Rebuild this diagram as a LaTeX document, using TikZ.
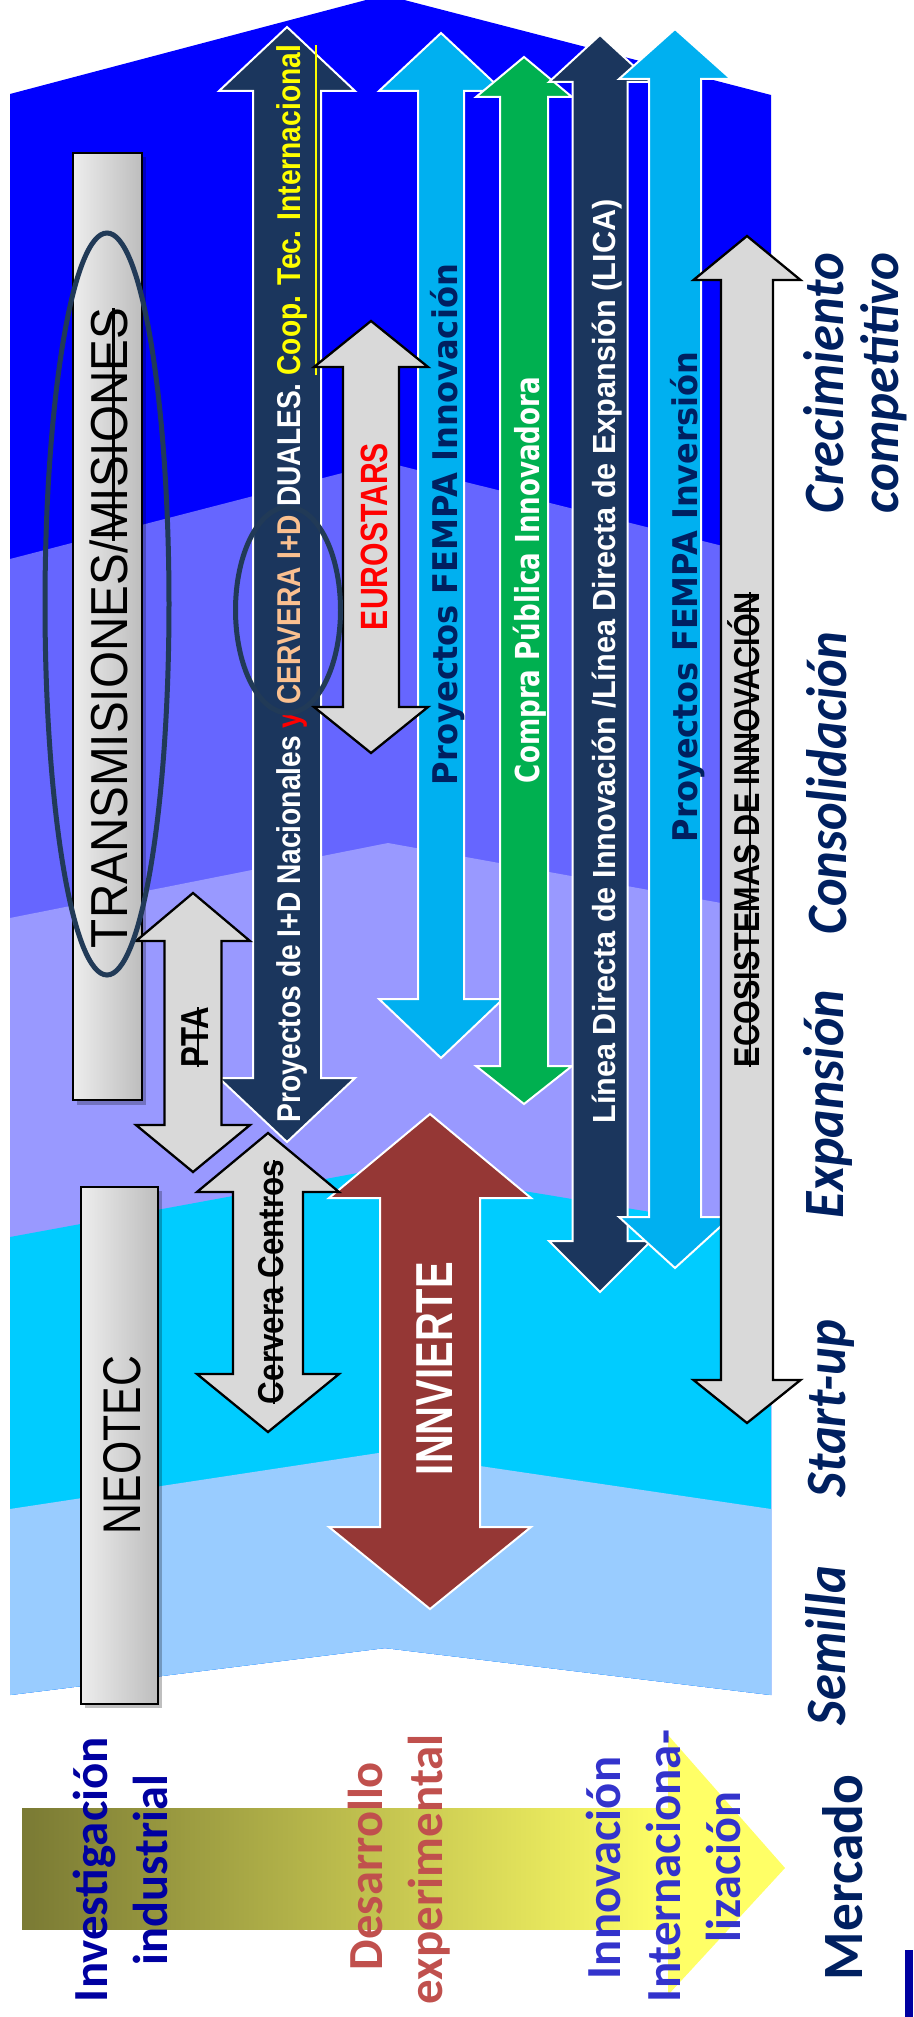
\documentclass[tikz,border=0pt]{standalone}
\usepackage{fontspec}
\usepackage{graphicx}
\setmainfont{Carlito}
\newfontfamily\djv{DejaVu Sans}
\newfontfamily\lib{Liberation Sans}
\definecolor{bandA}{HTML}{0000FF}
\definecolor{bandB}{HTML}{6666FF}
\definecolor{bandC}{HTML}{9999FF}
\definecolor{bandD}{HTML}{00CCFF}
\definecolor{bandE}{HTML}{99CCFF}
\definecolor{navy}{HTML}{1B365D}
\definecolor{lblue}{HTML}{00B0F0}
\definecolor{cgreen}{HTML}{00B050}
\definecolor{lgray}{HTML}{D9D9D9}
\definecolor{dred}{HTML}{953735}
\definecolor{ellc}{HTML}{213A57}
\definecolor{cerv}{HTML}{FAC090}
\definecolor{yel}{HTML}{FFFF00}
\definecolor{dnavy}{HTML}{002060}
\definecolor{invc}{HTML}{0000A0}
\definecolor{desc}{HTML}{C0504D}
\definecolor{innc}{HTML}{3333CC}
\definecolor{olive}{HTML}{7A7A34}
\definecolor{yelarr}{HTML}{FFFF66}
\definecolor{boxl}{HTML}{EDEDED}
\definecolor{boxr}{HTML}{BDBDBD}
\newcommand\fitL[3]{\resizebox{#1pt}{\height}{\fontsize{#2pt}{#2pt}\selectfont #3}}
\newcommand\strk[1]{\setbox0\hbox{#1}\rlap{\rule[0.23em]{\wd0}{0.05em}}\box0}
\newcommand\undl[1]{\setbox0\hbox{#1}\rlap{\rule[-0.5em]{\wd0}{0.06em}}\box0}
% style, cx, shaft half width, head half width, top tip, top base, bottom base, bottom tip
\newcommand\dblarrow[8]{\path[#1] (#2,#5) -- ({#2+#4},#6) -- ({#2+#3},#6) -- ({#2+#3},#7) -- ({#2+#4},#7) -- (#2,#8) -- ({#2-#4},#7) -- ({#2-#3},#7) -- ({#2-#3},#6) -- ({#2-#4},#6) -- cycle;}
\tikzset{
  wout/.style={draw=white, line width=2pt, line join=miter},
  bout/.style={draw=black, line width=2.3pt, line join=miter},
  vtext/.style={rotate=90, anchor=base, inner sep=0pt, outer sep=0pt},
  graybox/.style={left color=boxl, right color=boxr, draw=black, line width=2pt},
  stage/.style={vtext, text=dnavy},
}
\begin{document}
\begin{tikzpicture}[x=1pt,y=-1pt]
\useasboundingbox (0,0) rectangle (913,2017);
\clip (0,0) rectangle (913,2017);
% background bands
\fill[bandA] (10,94) -- (385,-5) -- (771,95) -- (771,1695) -- (385,1648) -- (10,1695) -- cycle;
\fill[bandB] (10,559) -- (385,462) -- (771,558) -- (771,1695) -- (385,1648) -- (10,1695) -- cycle;
\fill[bandC] (10,918) -- (388,843) -- (771,912) -- (771,1695) -- (385,1648) -- (10,1695) -- cycle;
\fill[bandD] (10,1237) -- (385,1168) -- (771,1232) -- (771,1695) -- (385,1648) -- (10,1695) -- cycle;
\fill[bandE] (10,1509) -- (385,1452) -- (771,1509) -- (771,1695) -- (385,1648) -- (10,1695) -- cycle;
% left boxes
\fill[black, opacity=0.25] (77,157) rectangle (146,1105);
\shade[graybox] (73,153) rectangle (142,1100);
\node[vtext, text=black] (ttrans) at (127,628) {\fitL{640}{52}{\lib TRANSMISIONES/\strk{MISIONES}}};
\fill[black, opacity=0.25] (85,1191) rectangle (162,1708);
\shade[graybox] (81,1187) rectangle (158,1704);
\node[vtext, text=black] (tneo) at (140,1445) {\fitL{178}{53}{\lib NEOTEC}};
% Proyectos I+D
\dblarrow{fill=navy, wout}{287}{34}{68}{27}{91}{1078}{1142}
\node[vtext, text=white] (tprj) at (300,583.5) {\fitL{1077}{33}{\lib\bfseries Proyectos de I+D Nacionales \textcolor{red}{y} \textcolor{cerv}{CERVERA I+D} DUALES. \textcolor{yel}{\undl{Coop. Tec. Internacional}}}};
% FEMPA Innovacion
\dblarrow{fill=lblue, wout}{441}{23}{62}{33}{91}{999}{1058}
\node[vtext, text=dnavy] (tfinn) at (457,524.5) {\fitL{521}{34}{\djv\bfseries Proyectos FEMPA Innovación}};
% Compra Publica
\dblarrow{fill=cgreen, wout}{524}{24}{48}{57}{97}{1066}{1104}
\node[vtext, text=white] (tcpi) at (539,580) {\fitL{406}{33}{\djv\bfseries Compra Pública Innovadora}};
% LICA
\dblarrow{fill=navy, wout}{600}{27.5}{51}{35}{82}{1241}{1292}
\node[vtext, text=white] (tlica) at (615,661.5) {\fitL{924}{32}{\lib\bfseries Línea Directa de Innovación /Línea Directa de Expansión (LICA)}};
% FEMPA Inversion
\dblarrow{fill=lblue, wout}{675}{26}{56}{29}{79}{1217}{1268}
\node[vtext, text=dnavy] (tfinv) at (697,597) {\fitL{490}{34}{\djv\bfseries Proyectos FEMPA Inversión}};
% Ecosistemas
\dblarrow{fill=lgray, bout}{747}{26}{53.5}{236}{280}{1380}{1423}
\node[vtext, text=black] (teco) at (759,829.5) {\fitL{475}{36}{\lib\bfseries \strk{ECOSISTEMAS DE INNOVACIÓN}}};
% Eurostars
\dblarrow{fill=lgray, bout}{371}{28}{57}{321}{367}{707}{753}
\node[vtext, text=red] (teur) at (387,536.5) {\fitL{187}{38}{\lib\bfseries EUROSTARS}};
% PTA
\dblarrow{fill=lgray, bout}{193}{28.5}{57}{893}{941}{1125}{1172}
\node[vtext, text=black] (tpta) at (208,1037) {\fitL{60}{39}{\lib\bfseries \strk{PTA}}};
% Innvierte
\dblarrow{fill=dred, wout}{430}{50}{101}{1114}{1198}{1527}{1609}
\node[vtext, text=white] (tinv) at (452,1368.5) {\fitL{213}{52}{\lib\bfseries INNVIERTE}};
% Cervera Centros
\dblarrow{fill=lgray, bout}{268}{35}{71}{1133}{1192}{1374}{1432}
\node[vtext, text=black] (tcer) at (283,1282) {\fitL{244}{36}{\lib\bfseries \strk{Cervera Centros}}};
% ellipses
\draw[ellc, line width=5pt] (107,604) ellipse [x radius=62pt, y radius=371pt];
\draw[ellc, line width=5pt] (288,610) ellipse [x radius=52.5pt, y radius=103pt];
% stage labels
\node[stage] (scre) at (843,383) {\fitL{260}{57}{\bfseries\itshape Crecimiento}};
\node[stage] (scom) at (898,383) {\fitL{260}{54}{\bfseries\itshape competitivo}};
\node[stage] (scon) at (846,783) {\fitL{302}{57}{\bfseries\itshape Consolidación}};
\node[stage] (sexp) at (843,1104) {\fitL{228}{57}{\bfseries\itshape Expansión}};
\node[stage] (ssta) at (845,1408.5) {\fitL{177}{57}{\bfseries\itshape Start-up}};
\node[stage] (ssem) at (845,1645.5) {\fitL{159}{57}{\bfseries\itshape Semilla}};
% bottom gradient arrow
\shade[left color=olive, right color=yelarr] (22,1808) rectangle (669,1929);
\fill[yelarr] (668,1735) -- (785,1868) -- (668,1995) -- cycle;
\node[vtext, text=invc] (binv) at (107,1869.5) {\fitL{265}{49}{\bfseries Investigación}};
\node[vtext, text=invc] (bind) at (167,1870) {\fitL{190}{49}{\bfseries industrial}};
\node[vtext, text=desc] (bdes) at (382,1866) {\fitL{208}{49}{\bfseries Desarrollo}};
\node[vtext, text=desc] (bexp) at (442,1869) {\fitL{270}{49}{\bfseries experimental}};
\node[vtext, text=innc] (binn) at (620,1868) {\fitL{222}{49}{\bfseries Innovación}};
\node[vtext, text=innc] (bint) at (680,1866) {\fitL{272}{49}{\bfseries Internaciona-}};
\node[vtext, text=innc] (bliz) at (740,1867) {\fitL{150}{49}{\bfseries lización}};
\node[vtext, text=dnavy] (bmer) at (862,1877.5) {\fitL{205}{57}{\bfseries Mercado}};
\fill[invc] (905,1950) rectangle (913,2017);
\end{tikzpicture}
\end{document}
